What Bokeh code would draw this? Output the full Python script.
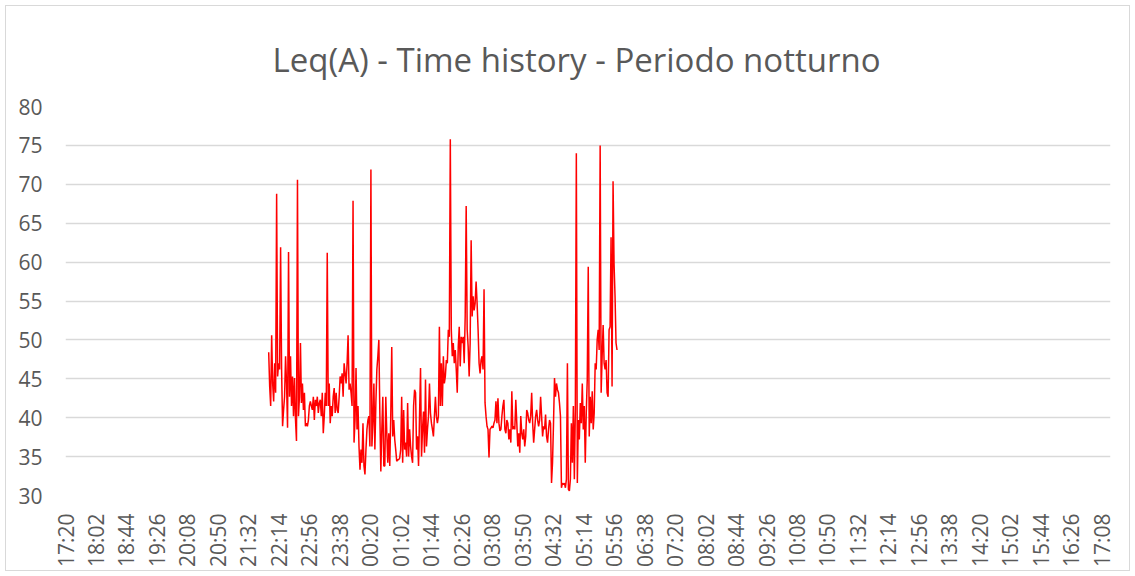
import numpy as np
from math import pi
from bokeh.plotting import figure
from bokeh.layouts import column
from bokeh.models import FixedTicker
from bokeh.embed import file_html
from bokeh.resources import INLINE

# ---------------- data ----------------
title_text = "Leq(A) - Time history - Periodo notturno"

tick_labels = ["17:20", "18:02", "18:44", "19:26", "20:08", "20:50", "21:32",
               "22:14", "22:56", "23:38", "00:20", "01:02", "01:44", "02:26",
               "03:08", "03:50", "04:32", "05:14", "05:56", "06:38", "07:20",
               "08:02", "08:44", "09:26", "10:08", "10:50", "11:32", "12:14",
               "12:56", "13:38", "14:20", "15:02", "15:44", "16:26", "17:08"]
axis_start = "17:20"
axis_span_min = 1440
tick_step_min = 42

y_ticks = [30, 35, 40, 45, 50, 55, 60, 65, 70, 75, 80]

measure_start = "22:00"
measure_end = "06:00"

# Leq(A) dB, 22:00 -> ~00:39
leq_part1 = [48.4, 44.0, 41.5, 50.6, 44.4, 42.1, 47.0, 43.2, 68.8, 45.3, 47.0, 46.2,
             61.9, 46.2, 38.9, 41.0, 42.7, 47.9, 44.4, 38.7, 61.3, 42.7, 47.9, 41.5,
             45.3, 40.2, 45.1, 39.8, 37.0, 70.6, 40.2, 42.7, 49.6, 41.9, 44.4, 41.0,
             43.2, 38.9, 39.3, 38.9, 39.7, 41.5, 42.1, 41.5, 41.0, 42.7, 39.7, 42.3,
             41.5, 42.7, 40.6, 41.9, 42.3, 40.2, 43.2, 38.0, 40.2, 43.2, 41.5, 61.2,
             41.5, 44.4, 39.3, 41.5, 40.2, 42.7, 43.8, 40.6, 43.2, 41.0, 40.6, 42.7,
             45.3, 44.4, 45.7, 42.7, 47.0, 45.7, 44.4, 47.0, 50.6, 43.6, 44.4, 43.2,
             41.5, 67.9, 36.8, 39.7, 46.4, 38.5, 41.5, 36.3, 33.3, 35.9, 34.2, 39.3,
             33.8, 32.7, 35.9, 38.5, 39.7, 40.2, 36.3, 71.9, 36.3, 39.3, 44.4, 35.9,
             41.9, 46.2, 47.9, 50.0, 40.6, 33.1, 38.5, 42.7, 33.8]
# ~00:40 -> ~03:23
leq_part2 = [33.8, 42.7, 38.0, 34.2, 38.0, 33.8, 40.2, 49.1, 37.6, 39.7, 37.2, 35.9,
             34.4, 34.6, 34.6, 34.8, 35.9, 42.7, 34.2, 41.0, 35.9, 36.8, 35.0, 41.9,
             35.0, 38.5, 36.3, 35.0, 34.2, 41.5, 43.6, 43.2, 35.9, 37.6, 33.8, 40.2,
             46.4, 35.0, 38.5, 40.8, 35.5, 44.9, 36.3, 38.5, 40.2, 44.4, 40.6, 39.3,
             38.5, 37.6, 40.2, 42.7, 40.2, 39.3, 40.2, 51.7, 41.5, 47.0, 41.5, 47.9,
             44.4, 45.3, 47.4, 47.0, 51.3, 50.4, 75.8, 51.3, 47.9, 49.6, 47.0, 48.7,
             46.2, 43.2, 49.1, 51.7, 46.6, 50.4, 49.6, 50.4, 47.0, 53.0, 67.2, 51.3,
             49.1, 45.3, 49.6, 62.8, 53.0, 55.6, 53.8, 54.7, 57.5, 54.7, 51.3, 47.0,
             45.7, 47.4, 47.9, 46.2, 56.5, 41.9, 40.2, 38.9, 38.5, 34.9, 38.5, 38.7,
             38.9, 38.7, 39.3, 39.7, 42.1, 39.3, 42.5, 39.3, 38.3, 38.5, 40.2, 41.5]
# ~03:25 -> 06:00
leq_part3 = [42.3, 38.5, 38.0, 39.7, 39.3, 37.2, 38.5, 36.8, 43.4, 38.5, 38.9, 38.5,
             42.3, 39.3, 36.3, 38.0, 35.5, 40.2, 38.0, 37.2, 38.5, 36.3, 37.6, 41.0,
             40.6, 39.7, 39.3, 40.2, 43.2, 39.3, 36.8, 38.5, 40.2, 41.0, 39.7, 38.9,
             39.7, 42.7, 40.2, 37.6, 38.9, 38.5, 40.4, 37.6, 36.8, 38.5, 39.7, 39.3,
             31.6, 34.2, 39.3, 45.1, 42.7, 44.4, 43.6, 43.2, 41.9, 40.2, 31.0, 31.6,
             31.4, 31.6, 31.0, 32.1, 47.0, 30.8, 30.6, 32.1, 39.3, 34.2, 41.5, 32.1,
             41.0, 74.0, 31.6, 39.7, 37.2, 41.9, 39.3, 44.4, 38.5, 41.5, 34.2, 40.6,
             44.9, 59.4, 37.6, 42.7, 39.3, 43.4, 38.5, 40.6, 47.0, 46.2, 50.0, 51.3,
             48.7, 75.0, 43.2, 47.9, 51.9, 47.0, 46.2, 47.4, 43.2, 42.7, 51.3, 51.7,
             63.2, 44.0, 70.4, 59.8, 55.6, 49.6, 48.7]

# ---------------- build ----------------
def minutes_from_start(hhmm):
    h, m = map(int, hhmm.split(":"))
    h0, m0 = map(int, axis_start.split(":"))
    return ((h * 60 + m) - (h0 * 60 + m0)) % 1440

leq = leq_part1 + leq_part2 + leq_part3
t0 = minutes_from_start(measure_start)
t1 = minutes_from_start(measure_end)
x = np.linspace(t0, t1, len(leq))

tick_pos = [i * tick_step_min for i in range(len(tick_labels))]

FONT = "Open Sans"
GREY = "#595959"

# chart area sits inside a thin grey frame 5px from the window edge
p = figure(width=1123, height=564, x_range=(0, axis_span_min), y_range=(y_ticks[0], y_ticks[-1]),
           output_backend="svg", toolbar_location=None,
           min_border_left=59, min_border_right=19, min_border_top=100, min_border_bottom=74)

p.title.text = title_text
p.title.align = "left"
p.title.offset = 207
p.title.text_font = FONT
p.title.text_font_size = "33px"
p.title.text_font_style = "normal"
p.title.text_color = GREY
p.title.standoff = 50

p.outline_line_color = None
p.background_fill_color = "white"
p.border_fill_color = "white"

p.xgrid.visible = False
p.ygrid.ticker = FixedTicker(ticks=y_ticks[1:])
p.ygrid.grid_line_color = "#D9D9D9"
p.ygrid.grid_line_width = 1.5

p.yaxis.ticker = FixedTicker(ticks=y_ticks)
p.xaxis.ticker = FixedTicker(ticks=tick_pos)
p.xaxis.major_label_overrides = {tp: lab for tp, lab in zip(tick_pos, tick_labels)}
p.xaxis.major_label_orientation = pi / 2

for ax in (p.xaxis[0], p.yaxis[0]):
    ax.axis_line_color = None
    ax.major_tick_line_color = None
    ax.minor_tick_line_color = None
    ax.major_label_text_font = FONT
    ax.major_label_text_font_size = "21px"
    ax.major_label_text_color = GREY

p.yaxis.major_label_standoff = 17
p.xaxis.major_label_standoff = 12

p.line(x, leq, line_color="#FF0000", line_width=1.5)

layout = column(p, styles={"border": "1px solid #D9D9D9", "margin": "5px 0 0 5px",
                           "background": "white"})

open("out.html", "w").write(file_html(layout, INLINE))
